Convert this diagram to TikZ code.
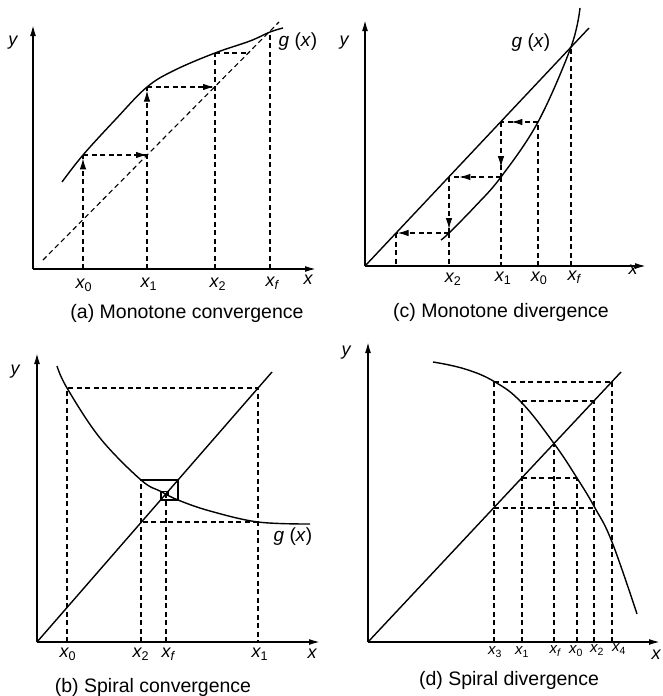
\documentclass[tikz,border=0pt]{standalone}
\usepackage{fontspec}
\setmainfont{Liberation Sans}
\usetikzlibrary{arrows.meta,decorations.markings}
\newcommand{\xs}[1]{\textit{x}\textsubscript{\upshape #1}}
\newcommand{\xsf}{\textit{x}\textsubscript{\itshape f}}
\begin{document}
\begin{tikzpicture}[x=1pt,y=-1pt,
  axis/.style={line width=1.6pt,-{Latex[length=11pt,width=6pt]}},
  dsh/.style={line width=1.1pt,dash pattern=on 5pt off 3.5pt},
  crv/.style={line width=1.4pt},
  arrat/.style={postaction={decorate,decoration={markings,mark=at position #1 with {\arrow{Latex[length=11pt,width=6.5pt]}}}}},
  lbl/.style={font=\fontsize{18}{18}\selectfont\itshape, inner sep=0pt},
  slbl/.style={font=\fontsize{15}{15}\selectfont\itshape, inner sep=0pt},
  glbl/.style={font=\fontsize{19}{19}\selectfont, inner sep=0pt},
  captxt/.style={font=\fontsize{19.5}{19.5}\selectfont, inner sep=0pt}]
\useasboundingbox (0,0) rectangle (662,696);

% ---------------- (a) Monotone convergence ----------------
\coordinate (aO) at (33,269);
\coordinate (aY) at (33,25);
\coordinate (aX) at (316,269);
\draw[axis] (aO) -- (aY);
\draw[axis] (aO) -- (aX);
\coordinate (aD1) at (43,260);
\coordinate (aD2) at (279,22);
\draw[dsh] (aD1) -- (aD2);
\draw[crv] plot[smooth,tension=0.6] coordinates {(62,182) (83,155) (115,120) (147,87) (175,70) (215,53) (250,41) (270,32) (283,28)};
\coordinate (aB0) at (83,269);  \coordinate (aP0) at (83,155);
\coordinate (aL1) at (147,155); \coordinate (aB1) at (147,269);
\coordinate (aP1) at (147,87);  \coordinate (aL2) at (214,87);
\coordinate (aB2) at (215,269); \coordinate (aP2) at (215,53);
\coordinate (aL3) at (249,53);
\coordinate (aBf) at (270,269); \coordinate (aPf) at (270,32);
\draw[dsh,arrat=0.97] (aB0) -- (aP0);
\draw[dsh,arrat=1] (aP0) -- (aL1);
\draw[dsh,arrat=0.98] (aB1) -- (aP1);
\draw[dsh,arrat=1] (aP1) -- (aL2);
\draw[dsh] (aB2) -- (aP2);
\draw[dsh] (aP2) -- (aL3);
\draw[dsh] (aBf) -- (aPf);
\node[lbl] (ay) at (13,43) {y};
\node[lbl] (ax) at (308,280) {x};
\node[lbl] (ax0) at (84,285) {\xs{0}};
\node[lbl] (ax1) at (149,284) {\xs{1}};
\node[lbl] (ax2) at (218,284) {\xs{2}};
\node[lbl] (axf) at (272,283) {\xsf};
\node[glbl] (ag) at (298,42) {\textit{g} (\textit{x})};
\node[captxt] (acap) at (187,313) {(a) Monotone convergence};

% ---------------- (c) Monotone divergence ----------------
\coordinate (cO) at (365,266);
\coordinate (cY) at (365,20);
\coordinate (cX) at (646,266);
\draw[axis] (cO) -- (cY);
\draw[axis] (cO) -- (cX);
\coordinate (cL) at (589,28);
\draw[crv] (cO) -- (cL);
\draw[crv] plot[smooth,tension=0.6] coordinates {(441,240) (449,233) (475,206.5) (501,177) (538,122) (571,47) (580,8)};
\coordinate (cB0) at (538,266); \coordinate (cP0) at (538,122);
\coordinate (cL1) at (501,122); \coordinate (cP1) at (501,177);
\coordinate (cB1) at (501,266);
\coordinate (cL2) at (449,177); \coordinate (cP2) at (449,233);
\coordinate (cB2) at (449,266);
\coordinate (cL3) at (396,233); \coordinate (cB3) at (396,266);
\coordinate (cBf) at (571,266); \coordinate (cPf) at (571,47);
\draw[dsh] (cBf) -- (cPf);
\draw[dsh] (cB0) -- (cP0);
\draw[dsh,arrat=0.72] (cP0) -- (cL1);
\draw[dsh,arrat=0.82] (cL1) -- (cP1);
\draw[dsh] (cP1) -- (cB1);
\draw[dsh,arrat=0.8] (cP1) -- (cL2);
\draw[dsh,arrat=0.93] (cL2) -- (cP2);
\draw[dsh] (cP2) -- (cB2);
\draw[dsh,arrat=0.97] (cP2) -- (cL3);
\draw[dsh] (cL3) -- (cB3);
\node[lbl] (cy) at (344,43) {y};
\node[lbl] (cx) at (633,270) {x};
\node[lbl] (cx2) at (453,279) {\xs{2}};
\node[lbl] (cx1) at (503,278) {\xs{1}};
\node[lbl] (cx0) at (539,278) {\xs{0}};
\node[lbl] (cxf) at (574,277) {\xsf};
\node[glbl] (cg) at (531,43) {\textit{g} (\textit{x})};
\node[captxt] (ccap) at (501,312) {(c) Monotone divergence};

% ---------------- (b) Spiral convergence ----------------
\coordinate (bO) at (37,642);
\coordinate (bY) at (37,353);
\coordinate (bX) at (320,642);
\draw[axis] (bO) -- (bY);
\draw[axis] (bO) -- (bX);
\coordinate (bL) at (272,372);
\draw[crv] (bO) -- (bL);
\draw[crv] plot[smooth,tension=0.6] coordinates {(57,366) (67,388) (100,438) (141,480) (161,491.5) (178,500) (210,511) (258,522) (310,524)};
\coordinate (bB0) at (67,642);  \coordinate (bP0) at (67,388);
\coordinate (bL1) at (258,388); \coordinate (bB1) at (258,642);
\coordinate (bP1) at (258,522); \coordinate (bL2) at (141,522);
\coordinate (bB2) at (141,642); \coordinate (bP2) at (141,480);
\coordinate (bL3) at (178,480); \coordinate (bP3) at (178,500);
\coordinate (bL4) at (161,500); \coordinate (bP4) at (161,491.5);
\coordinate (bL5) at (168,491.5); \coordinate (bP5) at (168,495);
\coordinate (bBf) at (166,642); \coordinate (bPf) at (166,495);
\draw[dsh] (bB0) -- (bP0) -- (bL1) -- (bB1);
\draw[dsh] (bP1) -- (bL2);
\draw[dsh] (bB2) -- (bP2);
\draw[dsh] (bBf) -- (bPf);
\draw[line width=1.1pt] (bP2) -- (bL3) -- (bP3) -- (bL4) -- (bP4) -- (bL5) -- (bP5);
\node[lbl] (by) at (15,372) {y};
\node[lbl] (bx) at (312,654) {x};
\node[lbl] (bx0) at (68,654) {\xs{0}};
\node[lbl] (bx2) at (141,654) {\xs{2}};
\node[lbl] (bxf) at (168,654) {\xsf};
\node[lbl] (bx1) at (260,654) {\xs{1}};
\node[glbl] (bg) at (293,537) {\textit{g} (\textit{x})};
\node[captxt] (bcap) at (153,687) {(b) Spiral convergence};

% ---------------- (d) Spiral divergence ----------------
\coordinate (dO) at (368,642);
\coordinate (dY) at (368,342);
\coordinate (dX) at (660,642);
\draw[axis] (dO) -- (dY);
\draw[axis] (dO) -- (dX);
\coordinate (dL) at (621,372);
\draw[crv] (dO) -- (dL);
\draw[crv] plot[smooth,tension=0.7] coordinates {(433,362) (465,369) (495,382) (522,403) (554,443.5) (577,478) (595,508) (612,542) (637,614)};
\coordinate (dB3) at (494,642); \coordinate (dT3) at (494,382);
\coordinate (dB1) at (522,642); \coordinate (dT1) at (522,401);
\coordinate (dBf) at (554,642); \coordinate (dTf) at (554,443.5);
\coordinate (dB0) at (577,642); \coordinate (dT0) at (577,478);
\coordinate (dB2) at (594,642); \coordinate (dT2) at (594,401);
\coordinate (dB4) at (612,642); \coordinate (dT4) at (612,382);
\coordinate (dM1) at (522,478); \coordinate (dM3) at (494,508);
\coordinate (dM2) at (594,508);
\draw[dsh] (dB3) -- (dT3);
\draw[dsh] (dB1) -- (dT1);
\draw[dsh] (dBf) -- (dTf);
\draw[dsh] (dB0) -- (dT0);
\draw[dsh] (dB2) -- (dT2);
\draw[dsh] (dB4) -- (dT4);
\draw[dsh] (dT3) -- (dT4);
\draw[dsh] (dT1) -- (dT2);
\draw[dsh] (dM1) -- (dT0);
\draw[dsh] (dM3) -- (dM2);
\node[lbl] (dy) at (346,353) {y};
\node[lbl] (dx) at (656,655) {x};
\node[slbl] (dx3) at (495,652) {\xs{3}};
\node[slbl] (dx1) at (522,652) {\xs{1}};
\node[slbl] (dxf) at (555,651) {\xsf};
\node[slbl] (dx0) at (576,651) {\xs{0}};
\node[slbl] (dx2) at (597,650) {\xs{2}};
\node[slbl] (dx4) at (619,649) {\xs{4}};
\node[captxt] (dcap) at (509,680) {(d) Spiral divergence};
\end{tikzpicture}
\end{document}
